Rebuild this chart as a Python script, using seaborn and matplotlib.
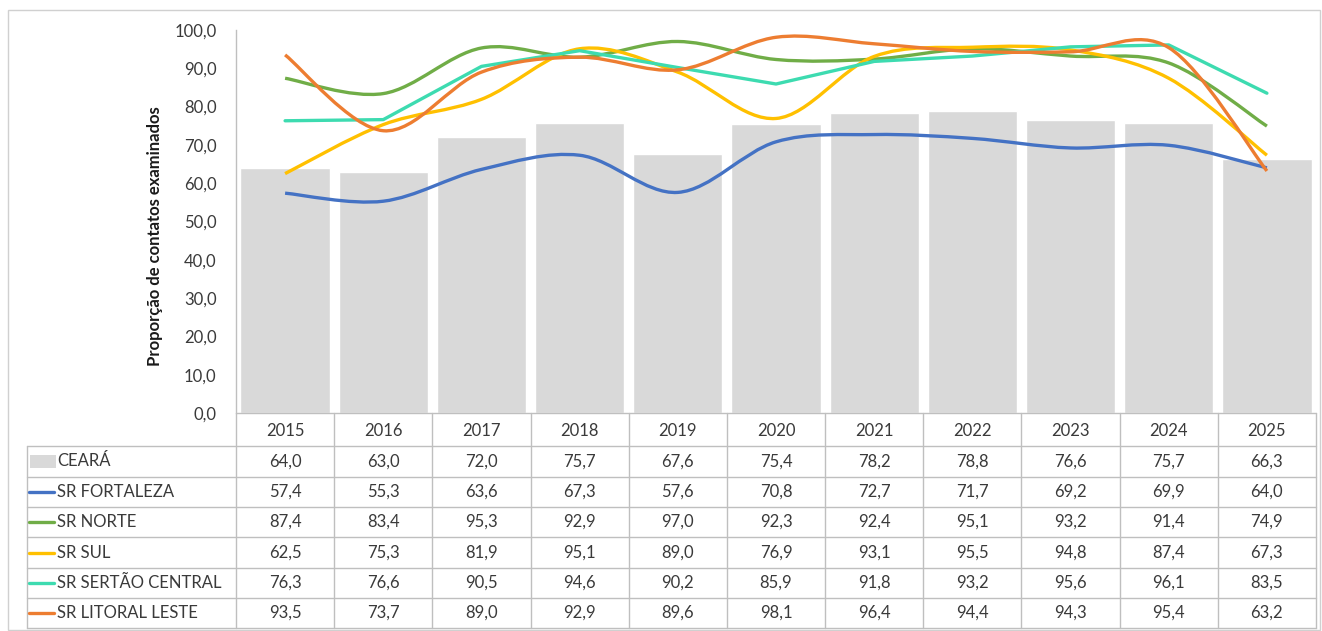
import numpy as np
import pandas as pd
import matplotlib
matplotlib.use("Agg")
import matplotlib.pyplot as plt
from matplotlib.path import Path
from matplotlib.patches import PathPatch, Rectangle
from matplotlib.lines import Line2D
import seaborn as sns

years = ["2015", "2016", "2017", "2018", "2019", "2020", "2021", "2022", "2023", "2024", "2025"]
ceara = [64.0, 63.0, 72.0, 75.7, 67.6, 75.4, 78.2, 78.8, 76.6, 75.7, 66.3]
sr_fortaleza = [57.4, 55.3, 63.6, 67.3, 57.6, 70.8, 72.7, 71.7, 69.2, 69.9, 64.0]
sr_norte = [87.4, 83.4, 95.3, 92.9, 97.0, 92.3, 92.4, 95.1, 93.2, 91.4, 74.9]
sr_sul = [62.5, 75.3, 81.9, 95.1, 89.0, 76.9, 93.1, 95.5, 94.8, 87.4, 67.3]
sr_sertao = [76.3, 76.6, 90.5, 94.6, 90.2, 85.9, 91.8, 93.2, 95.6, 96.1, 83.5]
sr_litoral = [93.5, 73.7, 89.0, 92.9, 89.6, 98.1, 96.4, 94.4, 94.3, 95.4, 63.2]

line_names = ["SR FORTALEZA", "SR NORTE", "SR SUL", "SR SERTÃO CENTRAL", "SR LITORAL LESTE"]
line_values = [sr_fortaleza, sr_norte, sr_sul, sr_sertao, sr_litoral]
line_colors = ["#4472C4", "#70AD47", "#FFC000", "#3DDBB0", "#ED7D31"]
line_smooth = [True, True, True, False, True]
bar_name = "CEARÁ"
bar_color = "#D9D9D9"

sns.set_theme(style="white")
plt.rcParams["font.family"] = ["Lato", "DejaVu Sans"]
TXT = "#3a3a3a"
GRID = "#BFBFBF"

W, H = 1322, 631
fig = plt.figure(figsize=(W / 100, H / 100), dpi=100)

def fx(px):
    return px / W

def fy(py):
    return 1 - py / H

# outer border
fig.patches.append(Rectangle((fx(8), fy(630)), fx(1312), 620 / H, transform=fig.transFigure,
                             fill=False, edgecolor="#D0D0D0", lw=1))

x0, x1, ytop, ybot = 236, 1316, 30, 413
ax = fig.add_axes([fx(x0), fy(ybot), fx(x1 - x0), (ybot - ytop) / H])

df = pd.DataFrame({"ano": years, "valor": ceara})
sns.barplot(data=df, x="ano", y="valor", color=bar_color, width=0.91, ax=ax,
            saturation=1, zorder=1)

def smooth_path(vals):
    pts = np.column_stack([np.arange(len(vals), dtype=float), np.asarray(vals, dtype=float)])
    n = len(pts)
    verts = [pts[0]]
    codes = [Path.MOVETO]
    for i in range(n - 1):
        p0 = pts[i - 1] if i > 0 else pts[i]
        p1 = pts[i]
        p2 = pts[i + 1]
        p3 = pts[i + 2] if i + 2 < n else pts[i + 1]
        c1 = p1 + (p2 - p0) / 6
        c2 = p2 - (p3 - p1) / 6
        verts += [c1, c2, p2]
        codes += [Path.CURVE4] * 3
    return Path(verts, codes)

for vals, col, sm in zip(line_values, line_colors, line_smooth):
    if sm:
        ax.add_patch(PathPatch(smooth_path(vals), facecolor="none", edgecolor=col, lw=2.4,
                               zorder=3, capstyle="butt"))
    else:
        sns.lineplot(x=np.arange(len(vals)), y=vals, color=col, lw=2.4, ax=ax, zorder=3,
                     legend=False)

ax.set_xlim(-0.5, len(years) - 0.5)
ax.set_ylim(0, 100)
ax.set_yticks(np.arange(0, 101, 10))
ax.set_yticklabels([f"{v:.1f}".replace(".", ",") for v in np.arange(0, 101, 10)],
                   fontsize=12, color=TXT)
ax.tick_params(axis="y", length=0, pad=14)
ax.set_xticks([])
ax.set_xlabel("")
ax.set_ylabel("")
for s in ["top", "right", "bottom"]:
    ax.spines[s].set_visible(False)
ax.spines["left"].set_color(GRID)
ax.spines["left"].set_linewidth(1)
ax.grid(False)

fig.text(fx(155), fy(236), "Proporção de contatos examinados", rotation=90,
         ha="center", va="center", fontsize=12, fontweight="bold", color="#1a1a1a")

# data table
tax = fig.add_axes([0, 0, 1, 1], facecolor="none")
tax.set_xlim(0, W)
tax.set_ylim(H, 0)
tax.axis("off")

ncol = len(years)
colw = (x1 - x0) / ncol
col_edges = [x0 + colw * i for i in range(ncol + 1)]
row_edges = [413, 446, 477, 507, 537, 568, 598, 628]
tab_left = 27

tax.add_line(Line2D([x0, x1], [413, 413], color=GRID, lw=1))
for xe in col_edges:
    tax.add_line(Line2D([xe, xe], [413, 628], color=GRID, lw=1))
for ye in row_edges[1:]:
    tax.add_line(Line2D([tab_left, x1], [ye, ye], color=GRID, lw=1))
tax.add_line(Line2D([tab_left, tab_left], [446, 628], color=GRID, lw=1))

for i, yr in enumerate(years):
    xc = x0 + colw * (i + 0.5)
    tax.text(xc, (row_edges[0] + row_edges[1]) / 2 + 1, yr, ha="center", va="center",
             fontsize=12, color=TXT)

all_rows = [(bar_name, ceara, None)] + [(n, v, c) for n, v, c in zip(line_names, line_values, line_colors)]
for r, (name, vals, col) in enumerate(all_rows):
    yc = (row_edges[r + 1] + row_edges[r + 2]) / 2
    if col is None:
        tax.add_patch(Rectangle((30, yc - 7), 26, 13, color=bar_color, lw=0))
    else:
        tax.add_line(Line2D([29, 54], [yc, yc], color=col, lw=2.4))
    tax.text(57, yc, name, ha="left", va="center", fontsize=12, color=TXT)
    for i, v in enumerate(vals):
        xc = x0 + colw * (i + 0.5)
        tax.text(xc, yc, f"{v:.1f}".replace(".", ","), ha="center", va="center",
                 fontsize=12, color=TXT)

fig.savefig("out.png", dpi=100, facecolor="white")
